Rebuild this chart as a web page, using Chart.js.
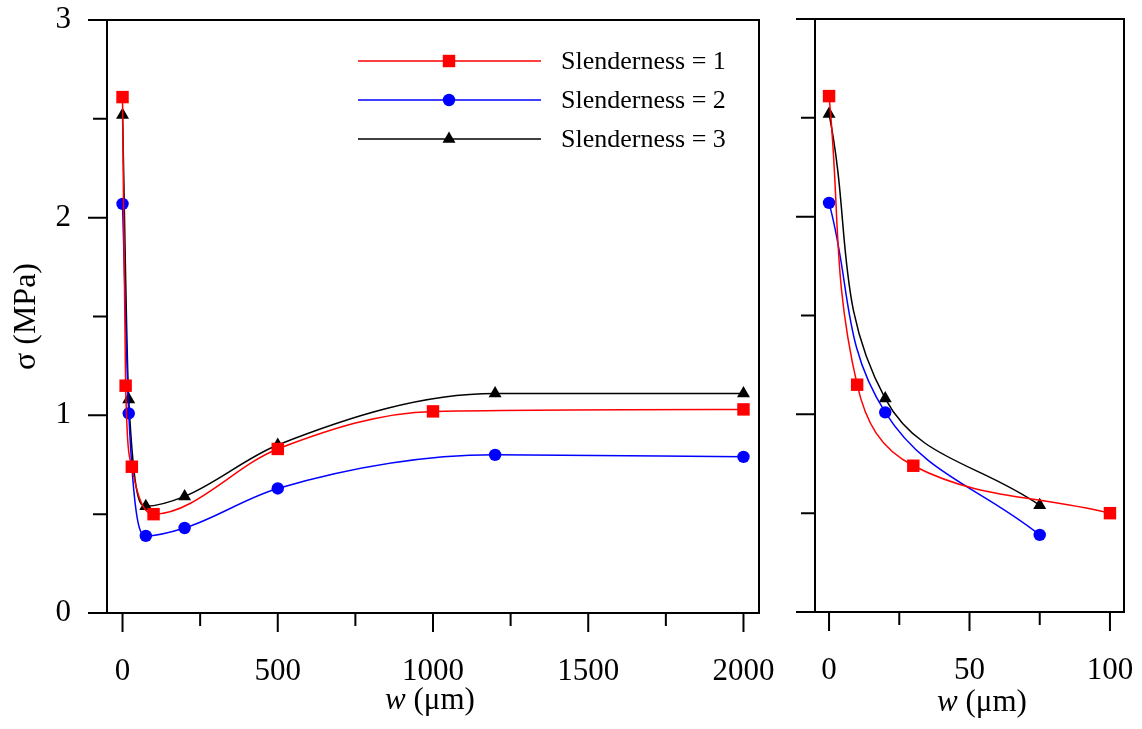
<!DOCTYPE html>
<html>
<head>
<meta charset="utf-8">
<script src="https://cdn.jsdelivr.net/npm/chart.js@4.4.1/dist/chart.umd.min.js"></script>
<style>
    html, body { margin: 0; padding: 0; background: #fff; }
    #wrap { position: relative; width: 1142px; height: 729px; overflow: hidden; }
    #leftBox { position: absolute; left: 0; top: 0; width: 800px; height: 729px; }
    #rightBox { position: absolute; left: 770px; top: 0; width: 372px; height: 729px; }
</style>
</head>
<body>
<div id="wrap">
    <div id="leftBox"><canvas id="chart-left" width="800" height="729"></canvas></div>
    <div id="rightBox"><canvas id="chart-right" width="372" height="729"></canvas></div>
</div>
<script>
const FONT = '"Liberation Serif", "Times New Roman", serif';

// ---- Data ----
const seriesLabels = ['Slenderness = 1', 'Slenderness = 2', 'Slenderness = 3'];
const w1 = [0, 10, 30, 100, 500, 1000, 2000];
const sigma1 = [2.61, 1.15, 0.74, 0.50, 0.83, 1.02, 1.03];
const w2 = [0, 20, 75, 200, 500, 1200, 2000];
const sigma2 = [2.07, 1.01, 0.39, 0.43, 0.63, 0.80, 0.79];
const w3 = [0, 20, 75, 200, 500, 1200, 2000];
const sigma3 = [2.52, 1.08, 0.54, 0.59, 0.85, 1.11, 1.11];

// ---- Ticks ----
const leftXMajor = [0, 500, 1000, 1500, 2000];
const leftXMinor = [250, 750, 1250, 1750];
const rightXMajor = [0, 50, 100];
const rightXMinor = [25, 75];
const yMajor = [0, 1, 2, 3];
const yMinor = [0.5, 1.5, 2.5];

const styles = [
    { color: '#ff0000', pointStyle: 'rect', radius: 8.8 },
    { color: '#0000ff', pointStyle: 'circle', radius: 6.2 },
    { color: '#000000', pointStyle: 'triangle', radius: 7.5 }
];

function toPoints(ws, ss, maxW) {
    const out = [];
    ws.forEach(function (w, i) {
        if (w <= maxW) {
            out.push({ x: w, y: ss[i] });
        }
    });
    return out;
}

function makeDatasets(maxW, curve) {
    const pairs = [[w1, sigma1], [w2, sigma2], [w3, sigma3]];
    return pairs.map(function (p, i) {
        return {
            label: seriesLabels[i],
            data: toPoints(p[0], p[1], maxW),
            borderColor: styles[i].color,
            backgroundColor: styles[i].color,
            borderWidth: 1.5,
            pointStyle: styles[i].pointStyle,
            pointRadius: styles[i].radius,
            pointBorderWidth: 0,
            pointBackgroundColor: styles[i].color,
            cubicInterpolationMode: curve,
            tension: 0.4,
            fill: false
        };
    });
}

function drawMarker(ctx, style, x, y, r) {
    ctx.beginPath();
    if (style === 'rect') {
        const s = Math.SQRT1_2 * r;
        ctx.rect(x - s, y - s, 2 * s, 2 * s);
    } else if (style === 'circle') {
        ctx.arc(x, y, r, 0, Math.PI * 2);
    } else {
        let rad = 0;
        ctx.moveTo(x + Math.sin(rad) * r, y - Math.cos(rad) * r);
        rad += Math.PI * 2 / 3;
        ctx.lineTo(x + Math.sin(rad) * r, y - Math.cos(rad) * r);
        rad += Math.PI * 2 / 3;
        ctx.lineTo(x + Math.sin(rad) * r, y - Math.cos(rad) * r);
        ctx.closePath();
    }
    ctx.fill();
}

// frame box + outside ticks (major/minor lengths differ)
const framePlugin = {
    id: 'frame',
    afterDatasetsDraw: function (chart, args, opts) {
        const ctx = chart.ctx;
        const a = chart.chartArea;
        const xs = chart.scales.x;
        const ys = chart.scales.y;
        ctx.save();
        ctx.strokeStyle = '#000';
        ctx.lineWidth = 2;
        ctx.strokeRect(a.left, a.top, a.right - a.left, a.bottom - a.top);
        ctx.beginPath();
        opts.xMajor.forEach(function (v) {
            const px = xs.getPixelForValue(v);
            ctx.moveTo(px, a.bottom); ctx.lineTo(px, a.bottom + 19);
        });
        opts.xMinor.forEach(function (v) {
            const px = xs.getPixelForValue(v);
            ctx.moveTo(px, a.bottom); ctx.lineTo(px, a.bottom + 13);
        });
        yMajor.forEach(function (v) {
            const py = ys.getPixelForValue(v);
            ctx.moveTo(a.left, py); ctx.lineTo(a.left - 19, py);
        });
        yMinor.forEach(function (v) {
            const py = ys.getPixelForValue(v);
            ctx.moveTo(a.left, py); ctx.lineTo(a.left - 14, py);
        });
        ctx.stroke();
        ctx.restore();
    }
};

const titlePlugin = {
    id: 'axisTitles',
    afterDraw: function (chart, args, opts) {
        const ctx = chart.ctx;
        const a = chart.chartArea;
        ctx.save();
        ctx.fillStyle = '#000';
        ctx.textAlign = 'left';
        ctx.textBaseline = 'alphabetic';
        const italic = 'italic 31px ' + FONT;
        const normal = '31px ' + FONT;
        ctx.font = italic;
        const wa = ctx.measureText('w').width;
        ctx.font = normal;
        const wb = ctx.measureText(' (\u03bcm)').width;
        const cx = (a.left + a.right) / 2 + opts.xOffset;
        const x0 = cx - (wa + wb) / 2;
        ctx.font = italic;
        ctx.fillText('w', x0, opts.xBaseline);
        ctx.font = normal;
        ctx.fillText(' (\u03bcm)', x0 + wa, opts.xBaseline);

        if (opts.yTitle) {
            ctx.translate(opts.yTitleX, (a.top + a.bottom) / 2);
            ctx.rotate(-Math.PI / 2);
            ctx.textAlign = 'center';
            ctx.textBaseline = 'middle';
            ctx.font = '32px ' + FONT;
            ctx.fillText(opts.yTitle, 0, 0);
        }
        ctx.restore();
    }
};

const legendPlugin = {
    id: 'lineLegend',
    afterDraw: function (chart, args, opts) {
        if (!opts.show) {
            return;
        }
        const ctx = chart.ctx;
        ctx.save();
        chart.data.datasets.forEach(function (ds, i) {
            const y = opts.rows[i];
            ctx.strokeStyle = ds.borderColor;
            ctx.lineWidth = 1.5;
            ctx.beginPath();
            ctx.moveTo(opts.lineStart, y);
            ctx.lineTo(opts.lineEnd, y);
            ctx.stroke();
            ctx.fillStyle = ds.borderColor;
            drawMarker(ctx, ds.pointStyle, opts.markerX, y, ds.pointRadius);
            ctx.fillStyle = '#000';
            ctx.font = '26px ' + FONT;
            ctx.textAlign = 'left';
            ctx.textBaseline = 'middle';
            ctx.fillText(ds.label, opts.textX, y + 1);
        });
        ctx.restore();
    }
};

function noScalePadding(s) {
    s.paddingLeft = 0;
    s.paddingRight = 0;
    s.paddingTop = 0;
    s.paddingBottom = 0;
}

function makeChart(id, cfg) {
    const el = document.getElementById(id);
    if (!el) {
        return;
    }
    new Chart(el.getContext('2d'), {
        type: 'line',
        data: { datasets: makeDatasets(cfg.maxW, cfg.curve) },
        options: {
            responsive: false,
            animation: false,
            layout: { padding: { left: 0, top: cfg.padTop, right: cfg.padRight, bottom: 0 } },
            plugins: {
                legend: { display: false },
                tooltip: { enabled: false },
                frame: { xMajor: cfg.xMajor, xMinor: cfg.xMinor },
                axisTitles: cfg.titles,
                lineLegend: cfg.legend
            },
            scales: {
                x: {
                    type: 'linear',
                    min: cfg.xMin,
                    max: cfg.xMax,
                    grid: { display: false, drawTicks: false },
                    border: { display: false },
                    afterBuildTicks: function (s) {
                        s.ticks = cfg.xMajor.map(function (v) { return { value: v }; });
                    },
                    afterFit: function (s) {
                        s.height = cfg.xAxisHeight;
                        noScalePadding(s);
                    },
                    ticks: {
                        autoSkip: false,
                        maxRotation: 0,
                        padding: 40,
                        color: '#000',
                        font: { family: FONT, size: 31 },
                        callback: function (v) { return String(v); }
                    }
                },
                y: {
                    type: 'linear',
                    min: 0,
                    max: 3,
                    grid: { display: false, drawTicks: false },
                    border: { display: false },
                    afterBuildTicks: function (s) {
                        s.ticks = yMajor.map(function (v) { return { value: v }; });
                    },
                    afterFit: function (s) {
                        s.width = cfg.yAxisWidth;
                        noScalePadding(s);
                    },
                    ticks: {
                        display: cfg.yLabels,
                        padding: 36,
                        color: '#000',
                        font: { family: FONT, size: 31 },
                        callback: function (v) { return String(v); }
                    }
                }
            }
        },
        plugins: [framePlugin, titlePlugin, legendPlugin]
    });
}

// ---- Left panel (full range) ----
makeChart('chart-left', {
    maxW: 2000,
    curve: 'monotone',
    xMin: -50,
    xMax: 2050,
    xMajor: leftXMajor,
    xMinor: leftXMinor,
    padTop: 20,
    padRight: 41,
    xAxisHeight: 116,
    yAxisWidth: 107,
    yLabels: true,
    titles: { xOffset: -3, xBaseline: 709, yTitle: '\u03c3 (MPa)', yTitleX: 27 },
    legend: { show: true, lineStart: 358, lineEnd: 541, markerX: 449, textX: 561, rows: [61, 100, 139] }
});

// ---- Right panel (zoom on small w) ----
makeChart('chart-right', {
    maxW: 100,
    curve: 'default',
    xMin: -5,
    xMax: 105,
    xMajor: rightXMajor,
    xMinor: rightXMinor,
    padTop: 19,
    padRight: 18,
    xAxisHeight: 117,
    yAxisWidth: 45,
    yLabels: false,
    titles: { xOffset: 12.5, xBaseline: 711, yTitle: null },
    legend: { show: false }
});
</script>
</body>
</html>
